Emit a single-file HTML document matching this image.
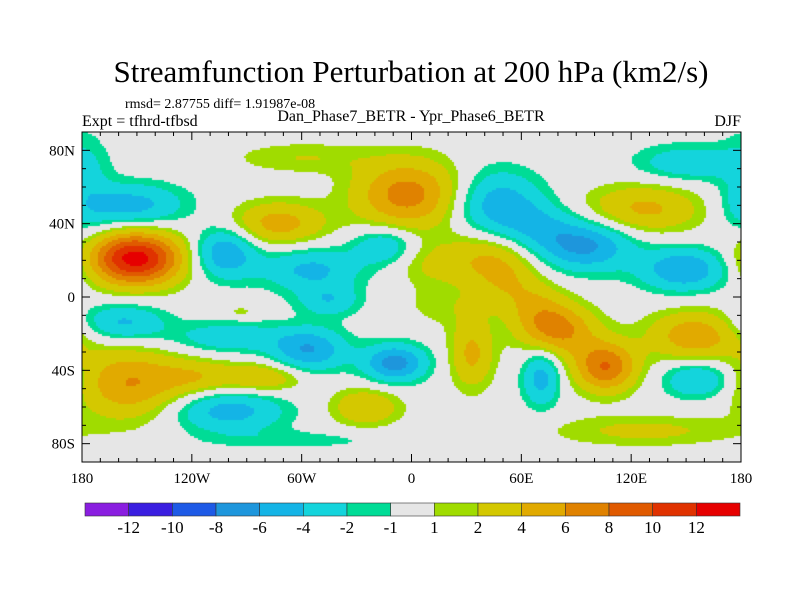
<!DOCTYPE html>
<html><head><meta charset="utf-8">
<style>
body{margin:0;background:#fff;width:800px;height:600px;overflow:hidden;font-family:"Liberation Serif",serif;}
svg text{font-family:"Liberation Serif",serif;fill:#000;}
</style></head>
<body>
<div style="position:relative;width:800px;height:600px">
<canvas id="map" width="659" height="330" style="position:absolute;left:82px;top:132px"></canvas>
<svg id="ov" width="800" height="600" style="position:absolute;left:0;top:0">
<text x="411" y="82" font-size="31" text-anchor="middle">Streamfunction Perturbation at 200 hPa (km2/s)</text>
<text x="125" y="108" font-size="14">rmsd= 2.87755 diff= 1.91987e-08</text>
<text x="82" y="126" font-size="16">Expt = tfhrd-tfbsd</text>
<text x="411" y="121" font-size="16" text-anchor="middle">Dan_Phase7_BETR - Ypr_Phase6_BETR</text>
<text x="741" y="126" font-size="16" text-anchor="end">DJF</text>
<rect x="82" y="132" width="659" height="330" fill="none" stroke="#000" stroke-width="1"/>
<g id="axes"></g>
<g id="cbar"></g>
</svg>
</div>
<script>
// Blob data: lon, lat, amplitude, sigma-lon, sigma-lat
const blobLon = [-151,-73,-2,-60,127,42,10,80,106,52,68,155,33,-154,-82,-118,-25,127,-93,20,
                 -153,-102,-55,-15,-45,47,70,95,149,151,-158,-100,-56,-9,71,157,-100,-178,-60];
const blobLat = [21,40,56,76,48,22,18,-18,-38,8,-5,-21,-31,-47,-44,-44,-60,-73,-8,-5,
                 50,24,15,28,-2,50,38,28,15,73,-14,-22,-29,-36,-44,-45,-62,60,-78];
const blobAmp = [13,5,7,2,4.5,4,2,6.5,8,2.5,3,5.5,4.5,6,4,3,4,2.5,1.5,1.5,
                 -5,-6,-4.5,-4,-3.5,-5.5,-3,-6.5,-6,-3.5,-4.5,-3.5,-6,-7,-5,-4.5,-5,-2,-1.5];
const blobSx = [15,15,17,22,19,14,12,12,10,10,10,15,7,17,14,12,11,30,5,15,
                17,10,16,10,10,14,12,15,14,17,14,18,12,10,6,11,18,8,30];
const blobSy = [8.5,7,11,5,8,9,7,8,8,8,8,8,11,11,5,6,6,5,2,7,
                7,8,7,6,5,11,8,8,7,6,6,5,7,6,9,6,7,20,3];

const levels = [-12,-10,-8,-6,-4,-2,-1,1,2,4,6,8,10,12];
const levelLabels = ["-12","-10","-8","-6","-4","-2","-1","1","2","4","6","8","10","12"];
const colors = ["#8a1ee0","#3a1ee0","#1e5ae6","#1e96dc","#14b4e6","#14d4dc","#00dc96","#e6e6e6","#a0dc00","#d4c800","#e1aa00","#e08200","#e05a00","#e03200","#e60000"];

const lonLabels = ["180","120W","60W","0","60E","120E","180"];
const lonTicks = [-180,-120,-60,0,60,120,180];
const latLabels = ["80N","40N","0","40S","80S"];
const latTicks = [80,40,0,-40,-80];

const X0=82, Y0=132, W=659, H=330, S=1.2;
const xOf = lon => X0 + (lon+180)/360*W;
const yOf = lat => Y0 + (90-lat)/180*H;

function field(lon,lat){
  let v=0;
  for(let i=0;i<blobLon.length;i++){
    for(const off of [-360,0,360]){
      const dx=(lon-blobLon[i]-off)/(blobSx[i]*S), dy=(lat-blobLat[i])/(blobSy[i]*S);
      const e=dx*dx+dy*dy; if(e<14) v+=blobAmp[i]*Math.exp(-0.5*e);
    }
  }
  return v;
}
function colorOf(v){let k=0;while(k<levels.length&&v>=levels[k])k++;return colors[k];}

const ctx=document.getElementById('map').getContext('2d');
const step=2;
for(let py=0;py<H;py+=step){
  for(let px=0;px<W;px+=step){
    const lon=-180+(px+1)/W*360, lat=90-(py+1)/H*180;
    ctx.fillStyle=colorOf(field(lon,lat));
    ctx.fillRect(px,py,step,step);
  }
}

const NS='http://www.w3.org/2000/svg';
function mk(tag,attrs,parent){const e=document.createElementNS(NS,tag);for(const k in attrs)e.setAttribute(k,attrs[k]);parent.appendChild(e);return e;}
const ax=document.getElementById('axes');
for(let lon=-180;lon<=180;lon+=10){
  const x=xOf(lon), L=(lon%60===0)?8:4;
  const t1=mk('line',{x1:x,y1:Y0+H,x2:x,y2:Y0+H-L,stroke:'#000'},ax);
  
  
  const t2=mk('line',{x1:x,y1:Y0,x2:x,y2:Y0+L,stroke:'#000'},ax);
  
  
}
for(let lat=-90;lat<=90;lat+=10){
  const y=yOf(lat), L=(lat%40===0)?8:4;
  const t1=mk('line',{x1:X0,y1:y,x2:X0+L,y2:y,stroke:'#000'},ax);
  
  
  const t2=mk('line',{x1:X0+W,y1:y,x2:X0+W-L,y2:y,stroke:'#000'},ax);
  
  
}
lonTicks.forEach((lon,i)=>{
  const t=mk('text',{x:xOf(lon),y:483,'font-size':15,'text-anchor':'middle'},ax);
  t.textContent=lonLabels[i];
  
  
});
latTicks.forEach((lat,i)=>{
  const t=mk('text',{x:75,y:yOf(lat)+5,'font-size':15,'text-anchor':'end'},ax);
  t.textContent=latLabels[i];
  
  
});

const cb=document.getElementById('cbar');
const CX=85, CW=655, CY=503, CH=13, bw=CW/colors.length;
colors.forEach((c,i)=>{
  const r=mk('rect',{x:CX+i*bw,y:CY,width:bw,height:CH,fill:c,stroke:'#333','stroke-width':0.6},cb);
  
  
});
levelLabels.forEach((s,i)=>{
  const t=mk('text',{x:CX+(i+1)*bw,y:533,'font-size':17,'text-anchor':'middle'},cb);
  t.textContent=s;
  
  
});
</script>
</body></html>
